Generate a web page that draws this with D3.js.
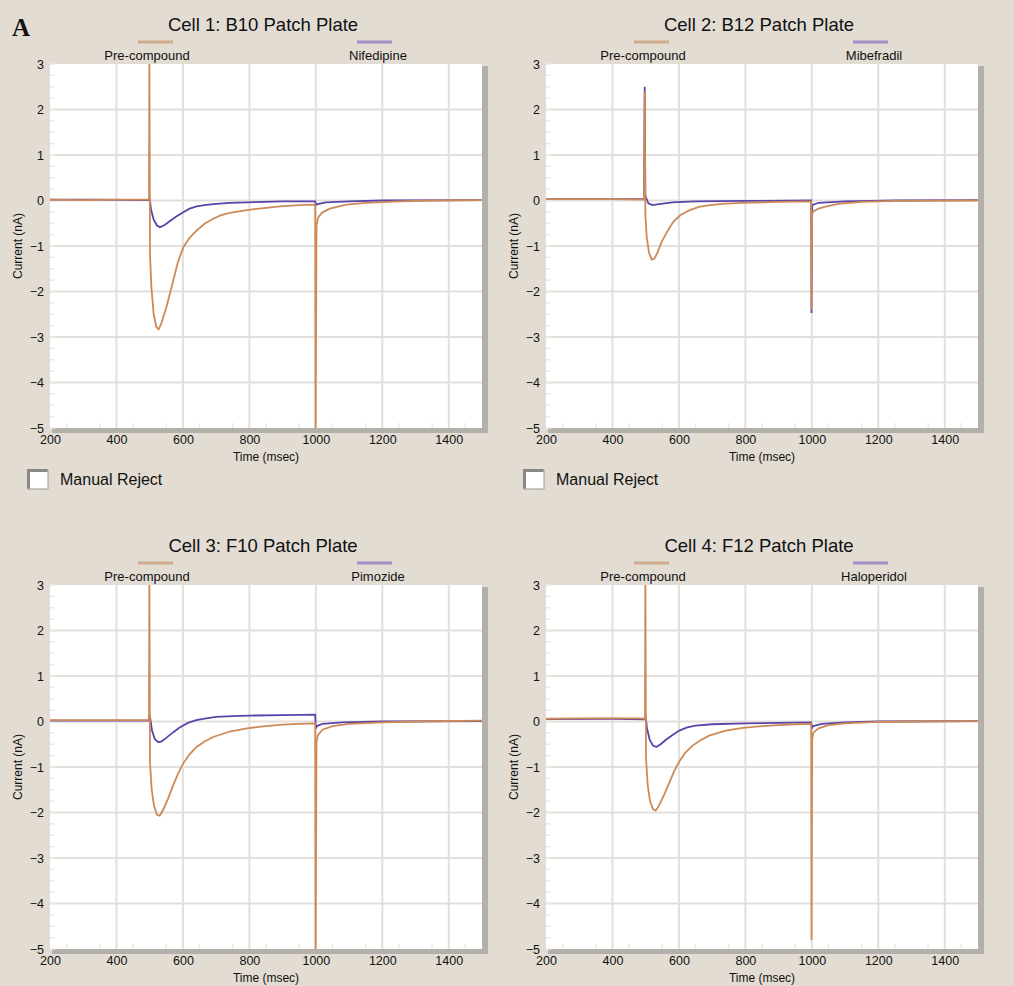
<!DOCTYPE html>
<html>
<head>
<meta charset="utf-8">
<script src="https://cdnjs.cloudflare.com/ajax/libs/d3/7.8.5/d3.min.js"></script>
<style>
  body { margin: 0; background: #e2dcd3; }
  svg { display: block; font-family: "Liberation Sans", Arial, Helvetica, sans-serif; }
</style>
</head>
<body>
<div id="chart"></div>
<script>
var svgWidth = 1014;
var svgHeight = 986;

// traces: [time (msec), current (nA)]
var cell1Pre = [[200,0.02],[300,0.01],[400,0.02],[498,0.02],[499,3.4],[501,-1.2],[505,-1.9],[512,-2.5],[520,-2.78],[527,-2.83],[535,-2.7],[550,-2.35],[571,-1.76],[585,-1.35],[601,-1.03],[620,-0.82],[641,-0.66],[665,-0.51],[691,-0.4],[715,-0.32],[741,-0.27],[792,-0.21],[850,-0.16],[892,-0.13],[950,-0.1],[998,-0.09],[999,-5.5],[1002,-0.55],[1007,-0.37],[1020,-0.26],[1042,-0.18],[1092,-0.09],[1150,-0.05],[1250,-0.02],[1350,0],[1500,0.01]];
var cell1Drug = [[200,0.02],[350,0.02],[498,0.01],[500,0.05],[504,-0.2],[512,-0.42],[522,-0.55],[531,-0.59],[545,-0.54],[561,-0.45],[580,-0.35],[601,-0.26],[620,-0.18],[641,-0.13],[665,-0.1],[691,-0.08],[740,-0.05],[792,-0.04],[900,-0.02],[998,-0.02],[1000,-0.1],[1005,-0.08],[1030,-0.04],[1100,-0.02],[1200,0],[1500,0.01]];

var cell2Pre = [[200,0.03],[400,0.03],[495,0.02],[497,2.4],[499,-0.3],[503,-0.8],[510,-1.15],[518,-1.3],[526,-1.28],[535,-1.15],[548,-0.91],[565,-0.68],[583,-0.47],[605,-0.32],[633,-0.21],[660,-0.14],[693,-0.1],[740,-0.07],[793,-0.05],[900,-0.03],[998,-0.02],[999,-2.4],[1001,-0.3],[1004,-0.24],[1020,-0.18],[1044,-0.13],[1084,-0.07],[1150,-0.03],[1250,-0.01],[1500,0]];
var cell2Drug = [[200,0.03],[400,0.03],[495,0.03],[497,2.5],[499,0.1],[502,0.05],[508,-0.06],[520,-0.1],[540,-0.08],[580,-0.04],[650,-0.02],[800,-0.01],[998,0],[999,-2.47],[1001,-0.1],[1020,-0.05],[1100,-0.02],[1250,0],[1500,0.01]];

var cell3Pre = [[200,0.03],[400,0.03],[498,0.03],[499,3.4],[501,-0.9],[506,-1.5],[513,-1.85],[522,-2.05],[530,-2.07],[540,-1.95],[555,-1.7],[571,-1.4],[585,-1.15],[601,-0.92],[620,-0.72],[641,-0.56],[665,-0.44],[691,-0.34],[741,-0.22],[792,-0.15],[850,-0.1],[900,-0.07],[950,-0.05],[998,-0.04],[999,-5.5],[1002,-0.45],[1006,-0.3],[1020,-0.18],[1050,-0.1],[1100,-0.05],[1200,-0.02],[1300,0],[1500,0.02]];
var cell3Drug = [[200,0.02],[400,0.02],[497,0.02],[499,0.15],[502,0.05],[507,-0.2],[515,-0.38],[525,-0.45],[535,-0.44],[550,-0.36],[570,-0.24],[590,-0.13],[615,-0.03],[640,0.03],[670,0.07],[700,0.1],[750,0.12],[800,0.13],[900,0.14],[998,0.15],[1000,-0.15],[1003,-0.1],[1020,-0.05],[1080,-0.02],[1200,0],[1500,0.01]];

var cell4Pre = [[200,0.06],[300,0.07],[400,0.07],[480,0.07],[498,0.06],[499,3.4],[501,-0.8],[506,-1.4],[513,-1.75],[522,-1.93],[530,-1.96],[540,-1.85],[555,-1.62],[571,-1.35],[585,-1.1],[601,-0.88],[620,-0.68],[641,-0.53],[665,-0.41],[691,-0.31],[741,-0.2],[792,-0.14],[850,-0.1],[900,-0.08],[950,-0.06],[998,-0.05],[999,-4.8],[1001,-0.4],[1004,-0.25],[1020,-0.15],[1050,-0.08],[1100,-0.04],[1200,-0.01],[1300,0],[1500,0.01]];
var cell4Drug = [[200,0.05],[400,0.06],[498,0.05],[500,0.1],[504,-0.15],[512,-0.4],[522,-0.53],[532,-0.56],[545,-0.5],[561,-0.4],[580,-0.3],[601,-0.2],[625,-0.13],[650,-0.09],[700,-0.06],[800,-0.04],[900,-0.03],[998,-0.02],[1000,-0.15],[1004,-0.1],[1030,-0.05],[1100,-0.02],[1200,0],[1500,0.01]];

var cellTitles = ["Cell 1: B10 Patch Plate", "Cell 2: B12 Patch Plate", "Cell 3: F10 Patch Plate", "Cell 4: F12 Patch Plate"];
var drugNames = ["Nifedipine", "Mibefradil", "Pimozide", "Haloperidol"];
var preTraces = [cell1Pre, cell2Pre, cell3Pre, cell4Pre];
var drugTraces = [cell1Drug, cell2Drug, cell3Drug, cell4Drug];

var xTicks = [200, 400, 600, 800, 1000, 1200, 1400];
var yTicks = [-5, -4, -3, -2, -1, 0, 1, 2, 3];
var xGrid = [400, 600, 800, 1000, 1200, 1400];

var preColor = "#cd8a57";
var drugColor = "#5a43aa";

var svg = d3.select("#chart")
  .append("svg")
  .attr("width", svgWidth)
  .attr("height", svgHeight);

svg.append("rect")
  .attr("width", svgWidth)
  .attr("height", svgHeight)
  .attr("fill", "#e2dcd3");

// panel letter
svg.append("text")
  .attr("x", 12)
  .attr("y", 36)
  .attr("font-family", "'Liberation Serif', 'Times New Roman', serif")
  .attr("font-weight", "bold")
  .attr("font-size", "25px")
  .attr("fill", "#111")
  .text("A");

var offsets = [[0, 0], [496, 0], [0, 521], [496, 521]];

cellTitles.forEach(function(title, i) {
  var ox = offsets[i][0];
  var oy = offsets[i][1];
  var g = svg.append("g").attr("transform", `translate(${ox}, ${oy})`);

  var x = d3.scaleLinear().domain([200, 1500]).range([50, 482]);
  var y = d3.scaleLinear().domain([-5, 3]).range([428, 64]);

  // title
  g.append("text")
    .attr("x", 263)
    .attr("y", 31)
    .attr("text-anchor", "middle")
    .attr("font-size", "18.5px")
    .attr("fill", "#111")
    .text(title);

  // legend
  g.append("line").attr("x1", 138).attr("x2", 173).attr("y1", 42).attr("y2", 42)
    .attr("stroke", "#d1ab8d").attr("stroke-width", 3);
  g.append("line").attr("x1", 357).attr("x2", 392).attr("y1", 42).attr("y2", 42)
    .attr("stroke", "#9f90c6").attr("stroke-width", 3);
  g.append("text").attr("x", 147).attr("y", 60).attr("text-anchor", "middle")
    .attr("font-size", "13px").attr("fill", "#111").text("Pre-compound");
  g.append("text").attr("x", 378).attr("y", 60).attr("text-anchor", "middle")
    .attr("font-size", "13px").attr("fill", "#111").text(drugNames[i]);

  // plot frame with shadow
  g.append("rect")
    .attr("x", 52).attr("y", 66)
    .attr("width", 482 - 50 + 4).attr("height", 428 - 64 + 3)
    .attr("fill", "#b3afaa");
  g.append("rect")
    .attr("x", 50).attr("y", 64)
    .attr("width", 482 - 50).attr("height", 428 - 64)
    .attr("fill", "#ffffff");

  // grid
  g.selectAll(".vgrid")
    .data(xGrid)
    .enter()
    .append("line")
    .attr("x1", d => x(d)).attr("x2", d => x(d))
    .attr("y1", 64).attr("y2", 428)
    .attr("stroke", "#e3dfdb")
    .attr("stroke-width", 2);

  g.selectAll(".hgrid")
    .data(yTicks.filter(d => d > -5 && d < 3))
    .enter()
    .append("line")
    .attr("x1", 50).attr("x2", 482)
    .attr("y1", d => y(d)).attr("y2", d => y(d))
    .attr("stroke", "#e3dfdb")
    .attr("stroke-width", 2);

  // minor ticks
  g.selectAll(".ytick")
    .data(d3.range(-5, 3.01, 0.25))
    .enter()
    .append("line")
    .attr("x1", 50).attr("x2", 55)
    .attr("y1", d => y(d)).attr("y2", d => y(d))
    .attr("stroke", "#eceae7").attr("stroke-width", 1.5);
  g.selectAll(".xtick")
    .data(d3.range(250, 1500, 100))
    .enter()
    .append("line")
    .attr("x1", d => x(d)).attr("x2", d => x(d))
    .attr("y1", 428).attr("y2", 423)
    .attr("stroke", "#eceae7").attr("stroke-width", 1.5);

  // axes
  var leftAxis = d3.axisLeft(y).tickValues(yTicks).tickFormat(d3.format("d")).tickSize(0).tickPadding(5);
  var bottomAxis = d3.axisBottom(x).tickValues(xTicks).tickFormat(d3.format("d")).tickSize(0).tickPadding(9);

  var yAxis = g.append("g").attr("transform", "translate(49, 0)").call(leftAxis);
  var xAxis = g.append("g").attr("transform", "translate(0, 428)").call(bottomAxis);
  [yAxis, xAxis].forEach(function(a) {
    a.select(".domain").remove();
    a.selectAll("text")
      .attr("font-family", "'Liberation Sans', Arial, sans-serif")
      .attr("font-size", "12.5px")
      .attr("fill", "#111");
  });
  yAxis.selectAll("text").attr("dy", "0.35em");
  xAxis.selectAll("text").attr("dy", "0.55em");

  g.append("text")
    .attr("x", 266)
    .attr("y", 461)
    .attr("text-anchor", "middle")
    .attr("font-size", "12px")
    .attr("fill", "#111")
    .text("Time (msec)");

  g.append("text")
    .attr("transform", "rotate(-90)")
    .attr("x", -246)
    .attr("y", 22)
    .attr("text-anchor", "middle")
    .attr("font-size", "12px")
    .attr("fill", "#111")
    .text("Current (nA)");

  // traces
  g.append("clipPath")
    .attr("id", "clip" + i)
    .append("rect")
    .attr("x", 50).attr("y", 64)
    .attr("width", 432).attr("height", 364);

  var line = d3.line()
    .x(d => x(d[0]))
    .y(d => y(d[1]));

  var traces = g.append("g").attr("clip-path", `url(#clip${i})`);
  traces.append("path")
    .datum(drugTraces[i])
    .attr("d", line)
    .attr("fill", "none")
    .attr("stroke", drugColor)
    .attr("stroke-width", 1.8);
  traces.append("path")
    .datum(preTraces[i])
    .attr("d", line)
    .attr("fill", "none")
    .attr("stroke", preColor)
    .attr("stroke-width", 1.8);

  // manual reject checkbox (top row only)
  if (i < 2) {
    g.append("rect")
      .attr("x", 28).attr("y", 470)
      .attr("width", 20).attr("height", 19)
      .attr("fill", "#ffffff")
      .attr("stroke", "#9a9894")
      .attr("stroke-width", 1);
    g.append("path")
      .attr("d", "M28.5,488.5 V470.5 H47.5")
      .attr("fill", "none")
      .attr("stroke", "#8a8884")
      .attr("stroke-width", 3);
    g.append("text")
      .attr("x", 60)
      .attr("y", 485)
      .attr("font-size", "16px")
      .attr("fill", "#111")
      .text("Manual Reject");
  }
});
</script>
</body>
</html>
